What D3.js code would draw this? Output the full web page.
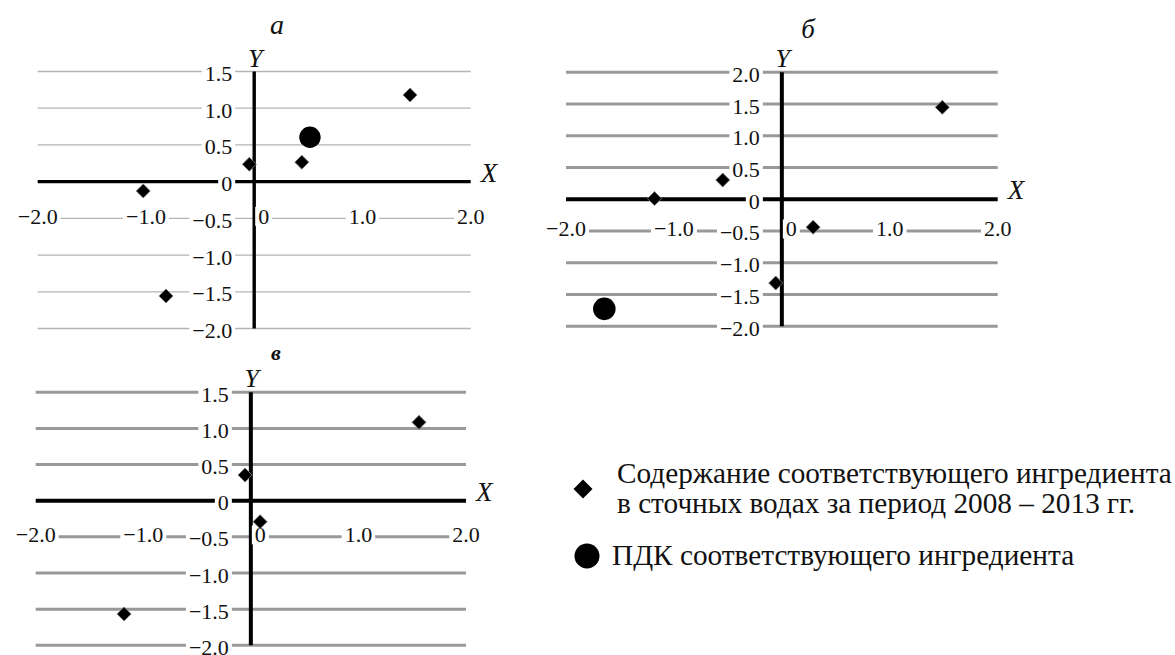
<!DOCTYPE html>
<html>
<head>
<meta charset="utf-8">
<script src="https://cdn.jsdelivr.net/npm/d3@7"></script>
<style>
  html, body { margin: 0; padding: 0; background: #fff; }
  svg { display: block; }
  text { font-family: "Liberation Serif", "Times New Roman", serif; fill: #111; }
</style>
</head>
<body>
<svg id="chart" width="1175" height="655"></svg>
<script>
// ---------- data ----------
const xTickValues = [-2.0, -1.0, 0, 1.0, 2.0];
const yTicksA = [1.5, 1.0, 0.5, 0, -0.5, -1.0, -1.5, -2.0];
const yTicksB = [2.0, 1.5, 1.0, 0.5, 0, -0.5, -1.0, -1.5, -2.0];
const yTicksC = [1.5, 1.0, 0.5, 0, -0.5, -1.0, -1.5, -2.0];

// panel а
const contentAX = [1.44, 0.44, -0.045, -1.025, -0.815];
const contentAY = [1.18, 0.265, 0.237, -0.127, -1.557];
const pdkAX = [0.515];
const pdkAY = [0.605];
// panel б
const contentBX = [1.487, -0.548, -1.18, 0.29, -0.057];
const contentBY = [1.448, 0.303, 0.01, -0.44, -1.32];
const pdkBX = [-1.645];
const pdkBY = [-1.727];
// panel в
const contentCX = [1.563, -0.054, 0.086, -1.178];
const contentCY = [1.084, 0.355, -0.29, -1.567];
const pdkCX = [];
const pdkCY = [];

const panelTitles = ["а", "б", "в"];
const legendLabels = [
  ["Содержание соответствующего ингредиента", "в сточных водах за период 2008 – 2013 гг."],
  ["ПДК соответствующего ингредиента"]
];

// ---------- layout ----------
const svg = d3.select("#chart");

function fmt(v) {
  if (v === 0) return "0";
  const s = Math.abs(v).toFixed(1);
  return v < 0 ? "\u2212" + s : s;
}

const panels = [
  { title: panelTitles[0], titleX: 277, titleY: 34, titleSize: 28, titleWeight: "normal",
    x0: 37.7, x1: 470.7, yTop: 71.5, yBot: 328.5, yTicks: yTicksA,
    gridW: 1.3, gridC: "#b3b3b3", axisW: 3.4,
    cx: contentAX, cy: contentAY, px: pdkAX, py: pdkAY, pr: 10.7 },
  { title: panelTitles[1], titleX: 808, titleY: 38, titleSize: 27, titleWeight: "normal",
    x0: 566, x1: 997.7, yTop: 72.3, yBot: 326.2, yTicks: yTicksB,
    gridW: 3, gridC: "#999", axisW: 4,
    cx: contentBX, cy: contentBY, px: pdkBX, py: pdkBY, pr: 11.3 },
  { title: panelTitles[2], titleX: 276, titleY: 360, titleSize: 22, titleWeight: "bold",
    x0: 35.7, x1: 466, yTop: 392.3, yBot: 645.3, yTicks: yTicksC,
    gridW: 3, gridC: "#999", axisW: 4,
    cx: contentCX, cy: contentCY, px: pdkCX, py: pdkCY, pr: 11 }
];

const tickFont = 22;
const diamond = d3.symbol().type(d3.symbolSquare).size(98);

panels.forEach(p => {
  const yDom = d3.extent(p.yTicks);
  const x = d3.scaleLinear().domain([-2, 2]).range([p.x0, p.x1]);
  const y = d3.scaleLinear().domain(yDom).range([p.yBot, p.yTop]);
  const g = svg.append("g");

  // gridlines (not zero)
  g.selectAll("line.grid").data(p.yTicks.filter(t => t !== 0)).join("line")
    .attr("x1", p.x0).attr("x2", p.x1)
    .attr("y1", d => y(d)).attr("y2", d => y(d))
    .attr("stroke", p.gridC).attr("stroke-width", p.gridW);

  // axes
  g.append("line").attr("x1", p.x0).attr("x2", p.x1).attr("y1", y(0)).attr("y2", y(0))
    .attr("stroke", "#000").attr("stroke-width", p.axisW);
  g.append("line").attr("x1", x(0)).attr("x2", x(0)).attr("y1", y(yDom[1])).attr("y2", y(yDom[0]))
    .attr("stroke", "#000").attr("stroke-width", p.axisW);

  // tick labels with white backgrounds
  const labels = [];
  p.yTicks.forEach(t => labels.push({ text: fmt(t), x: x(0) - 22, y: y(t) + 2, anchor: "end" }));
  xTickValues.forEach(t => labels.push({
    text: fmt(t),
    x: t === 0 ? x(0) + 4 : x(t),
    y: y(-0.5) - 2,
    anchor: t === 0 ? "start" : "middle"
  }));
  const lg = g.append("g");
  const bgG = lg.append("g");
  const txG = lg.append("g");
  labels.forEach(l => {
    const t = txG.append("text")
      .attr("x", l.x).attr("y", l.y)
      .attr("text-anchor", l.anchor)
      .attr("dominant-baseline", "central")
      .attr("font-size", tickFont)
      .text(l.text);
    const bb = t.node().getBBox();
    bgG.append("rect")
      .attr("x", bb.x - 3).attr("y", bb.y + 3)
      .attr("width", bb.width + 6).attr("height", bb.height - 6)
      .attr("fill", "#fff");
  });

  // axis titles
  g.append("text").attr("x", x(0) + 1).attr("y", y(yDom[1]) - 5)
    .attr("text-anchor", "middle").attr("font-style", "italic").attr("font-size", 26).text("Y");
  g.append("text").attr("x", p.x1 + 10).attr("y", y(0))
    .attr("text-anchor", "start").attr("font-style", "italic").attr("font-size", 27).text("X");
  // panel title
  g.append("text").attr("x", p.titleX).attr("y", p.titleY)
    .attr("text-anchor", "middle").attr("font-style", "italic")
    .attr("font-weight", p.titleWeight).attr("font-size", p.titleSize).text(p.title);

  // markers
  g.selectAll("path.content").data(p.cx.map((v, i) => [v, p.cy[i]])).join("path")
    .attr("d", diamond)
    .attr("transform", d => `translate(${x(d[0])},${y(d[1])}) rotate(45)`)
    .attr("fill", "#000").attr("stroke", "#777").attr("stroke-width", 0.8);
  g.selectAll("circle.pdk").data(p.px.map((v, i) => [v, p.py[i]])).join("circle")
    .attr("cx", d => x(d[0])).attr("cy", d => y(d[1])).attr("r", p.pr)
    .attr("fill", "#000");
});

// ---------- legend ----------
const leg = svg.append("g");
leg.append("path")
  .attr("d", d3.symbol().type(d3.symbolSquare).size(180))
  .attr("transform", "translate(583,489) rotate(45)")
  .attr("fill", "#000");
const legTexts = [];
legendLabels[0].forEach((s, i) => {
  legTexts.push(leg.append("text").attr("x", 617).attr("y", 483 + i * 30)
    .attr("font-size", 27).text(s));
});
leg.append("circle").attr("cx", 587).attr("cy", 556).attr("r", 12.5).attr("fill", "#000");
legTexts.push(leg.append("text").attr("x", 612).attr("y", 565).attr("font-size", 27).text(legendLabels[1][0]));
// fit font size so the first legend line spans the same width as in the figure (~555px)
const w0 = legTexts[0].node().getComputedTextLength();
const legFont = Math.min(32, 27 * 555 / w0);
legTexts.forEach(t => t.attr("font-size", legFont));
</script>
</body>
</html>
